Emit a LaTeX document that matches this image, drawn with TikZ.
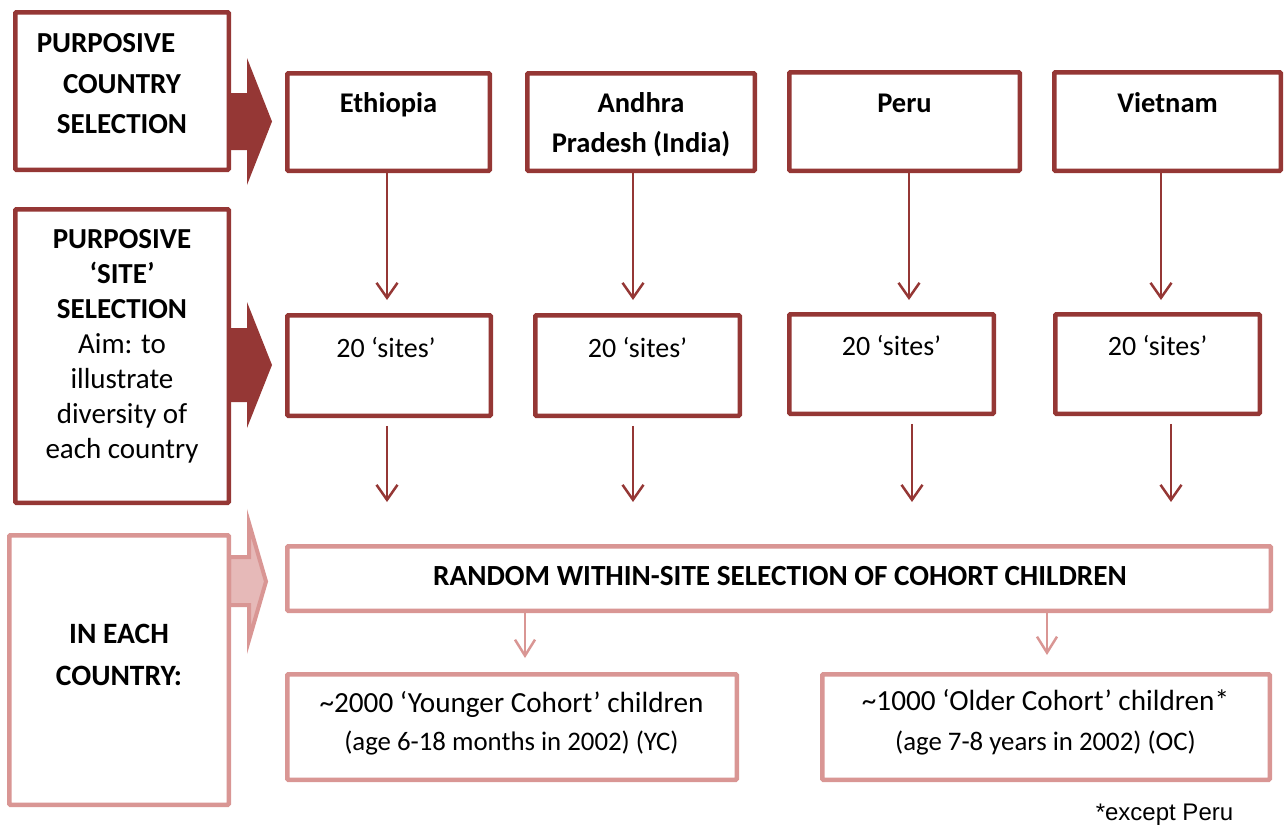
\documentclass[tikz,border=0pt]{standalone}
\usepackage{fontspec}
\setmainfont{Carlito}
\newfontfamily\arialfont{Liberation Sans}
\usetikzlibrary{arrows.meta}
\definecolor{darkred}{RGB}{149,55,53}
\definecolor{pinkline}{RGB}{217,150,148}
\definecolor{pinkfill}{RGB}{230,185,184}
\tikzset{
  dbox/.style={draw=darkred, line width=4.5pt, fill=white, rectangle, inner sep=0pt, outer sep=0pt, rounded corners=1pt},
  pbox/.style={draw=pinkline, line width=4.5pt, fill=white, rectangle, inner sep=0pt, outer sep=0pt, rounded corners=1pt},
  txt/.style={inner sep=0pt, outer sep=0pt, align=center, text=black},
  darrow/.style={draw=darkred, line width=2.5pt, -{Straight Barb[length=15pt,width=21pt]}},
  parrow/.style={draw=pinkline, line width=2.5pt, -{Straight Barb[length=16pt,width=20pt]}},
  bigd/.style={fill=darkred},
  bigp/.style={draw=pinkline, fill=pinkfill, line width=4pt, line join=miter},
}
\begin{document}
\begin{tikzpicture}[x=1pt,y=-1pt]
\useasboundingbox (0,0) rectangle (1285,828);

% block arrows
\path[bigd] (229,93) -- (247,93) -- (247,58) -- (272,121.5) -- (247,185) -- (247,150) -- (229,150) -- cycle;
\path[bigd] (229,328) -- (247,328) -- (247,302) -- (272,365) -- (247,428) -- (247,402) -- (229,402) -- cycle;
\path[bigp] (229,557) -- (249,557) -- (249,523) -- (266,581.5) -- (249,640) -- (249,605) -- (229,605) -- cycle;

% left boxes
\node[dbox, minimum width=213.5pt, minimum height=157.5pt] (boxA) at (122,91) {};
\node[dbox, minimum width=213.5pt, minimum height=293.5pt] (boxB) at (122,356) {};
\node[pbox, minimum width=219.5pt, minimum height=269.5pt] (boxC) at (119,670) {};

\node[txt, anchor=north, font=\bfseries\fontsize{29}{40.5}\selectfont] (tA) at (122,33.6)
  {PURPOSIVE\hspace*{32pt}\\COUNTRY\\SELECTION};
\node[txt, anchor=north, font=\fontsize{29}{35}\selectfont] (tB) at (122,229.6)
  {\textbf{PURPOSIVE}\\\textbf{‘SITE’}\\\textbf{SELECTION}\\Aim: to\\illustrate\\diversity of\\each country};
\node[txt, anchor=north, font=\bfseries\fontsize{29.5}{42}\selectfont] (tC) at (119,624.3)
  {IN EACH\\COUNTRY:};

% country boxes
\node[dbox, minimum width=202.5pt, minimum height=97.5pt] (eth) at (388.5,122) {};
\node[dbox, minimum width=227.5pt, minimum height=97.5pt] (and) at (641,122) {};
\node[dbox, minimum width=230.5pt, minimum height=98.5pt] (per) at (904.5,121.5) {};
\node[dbox, minimum width=226.5pt, minimum height=98.5pt] (vie) at (1167.5,121.5) {};

\node[txt, anchor=base, font=\bfseries\fontsize{28.5}{40}\selectfont] (teth) at (388.5,112) {Ethiopia};
\node[txt, anchor=north, font=\bfseries\fontsize{28.5}{40}\selectfont] (tand) at (641,92.3) {Andhra\\Pradesh (India)};
\node[txt, anchor=base, font=\bfseries\fontsize{28.5}{40}\selectfont] (tper) at (904.5,112) {Peru};
\node[txt, anchor=base, font=\bfseries\fontsize{28.5}{40}\selectfont] (tvie) at (1167.5,112) {Vietnam};

% site boxes
\node[dbox, minimum width=203.5pt, minimum height=100.5pt] (eths) at (389,365.5) {};
\node[dbox, minimum width=204.5pt, minimum height=100.5pt] (ands) at (637.5,365.5) {};
\node[dbox, minimum width=204.5pt, minimum height=99.5pt] (pers) at (891.5,364) {};
\node[dbox, minimum width=204.5pt, minimum height=99.5pt] (vies) at (1157.5,364) {};

\node[txt, anchor=base, font=\fontsize{28}{34}\selectfont] (teths) at (386,357) {20 ‘sites’};
\node[txt, anchor=base, font=\fontsize{28}{34}\selectfont] (tands) at (637.5,357) {20 ‘sites’};
\node[txt, anchor=base, font=\fontsize{28}{34}\selectfont] (tpers) at (891.5,355) {20 ‘sites’};
\node[txt, anchor=base, font=\fontsize{28}{34}\selectfont] (tvies) at (1157.5,355) {20 ‘sites’};

% arrows country -> sites
\coordinate (t1) at (387,300);
\coordinate (t2) at (633,300);
\coordinate (t3) at (909,300);
\coordinate (t4) at (1161,300);
\draw[darrow] (eth.south -| t1) -- (t1);
\draw[darrow] (and.south -| t2) -- (t2);
\draw[darrow] (per.south -| t3) -- (t3);
\draw[darrow] (vie.south -| t4) -- (t4);

% arrows below sites
\coordinate (u1) at (387,502);
\coordinate (u2) at (633,502);
\coordinate (u3) at (912,502);
\coordinate (u4) at (1171,502);
\draw[darrow, shorten <=10pt] (eths.south -| u1) -- (u1);
\draw[darrow, shorten <=10pt] (ands.south -| u2) -- (u2);
\draw[darrow, shorten <=10pt] (pers.south -| u3) -- (u3);
\draw[darrow, shorten <=10pt] (vies.south -| u4) -- (u4);

% random selection
\node[pbox, minimum width=983.5pt, minimum height=64.5pt] (rand) at (779,578.5) {};
\node[txt, anchor=base, font=\bfseries\fontsize{29.2}{35}\selectfont] (trand) at (780,585)
  {RANDOM WITHIN-SITE SELECTION OF COHORT CHILDREN};

% cohort boxes
\node[pbox, minimum width=449.5pt, minimum height=105.5pt] (yc) at (512,727) {};
\node[pbox, minimum width=447.5pt, minimum height=105.5pt] (oc) at (1046,727) {};

\node[txt, anchor=north, font=\fontsize{29.2}{38}\selectfont] (tyc) at (511.5,691.7)
  {\textasciitilde2000 ‘Younger Cohort’ children\\{\fontsize{26.8}{38}\selectfont (age 6-18 months in 2002) (YC)}};
\node[txt, anchor=north, font=\fontsize{29.2}{40}\selectfont] (toc) at (1045.5,689.7)
  {\textasciitilde1000 ‘Older Cohort’ children*\\{\fontsize{26.8}{40}\selectfont (age 7-8 years in 2002) (OC)}};

\coordinate (p1) at (525,658);
\coordinate (p2) at (1047,655);
\draw[parrow] (rand.south -| p1) -- (p1);
\draw[parrow] (rand.south -| p2) -- (p2);

\node[txt, anchor=base, font=\arialfont\fontsize{24}{28}\selectfont] (note) at (1164.5,820) {*except Peru};
\end{tikzpicture}
\end{document}
